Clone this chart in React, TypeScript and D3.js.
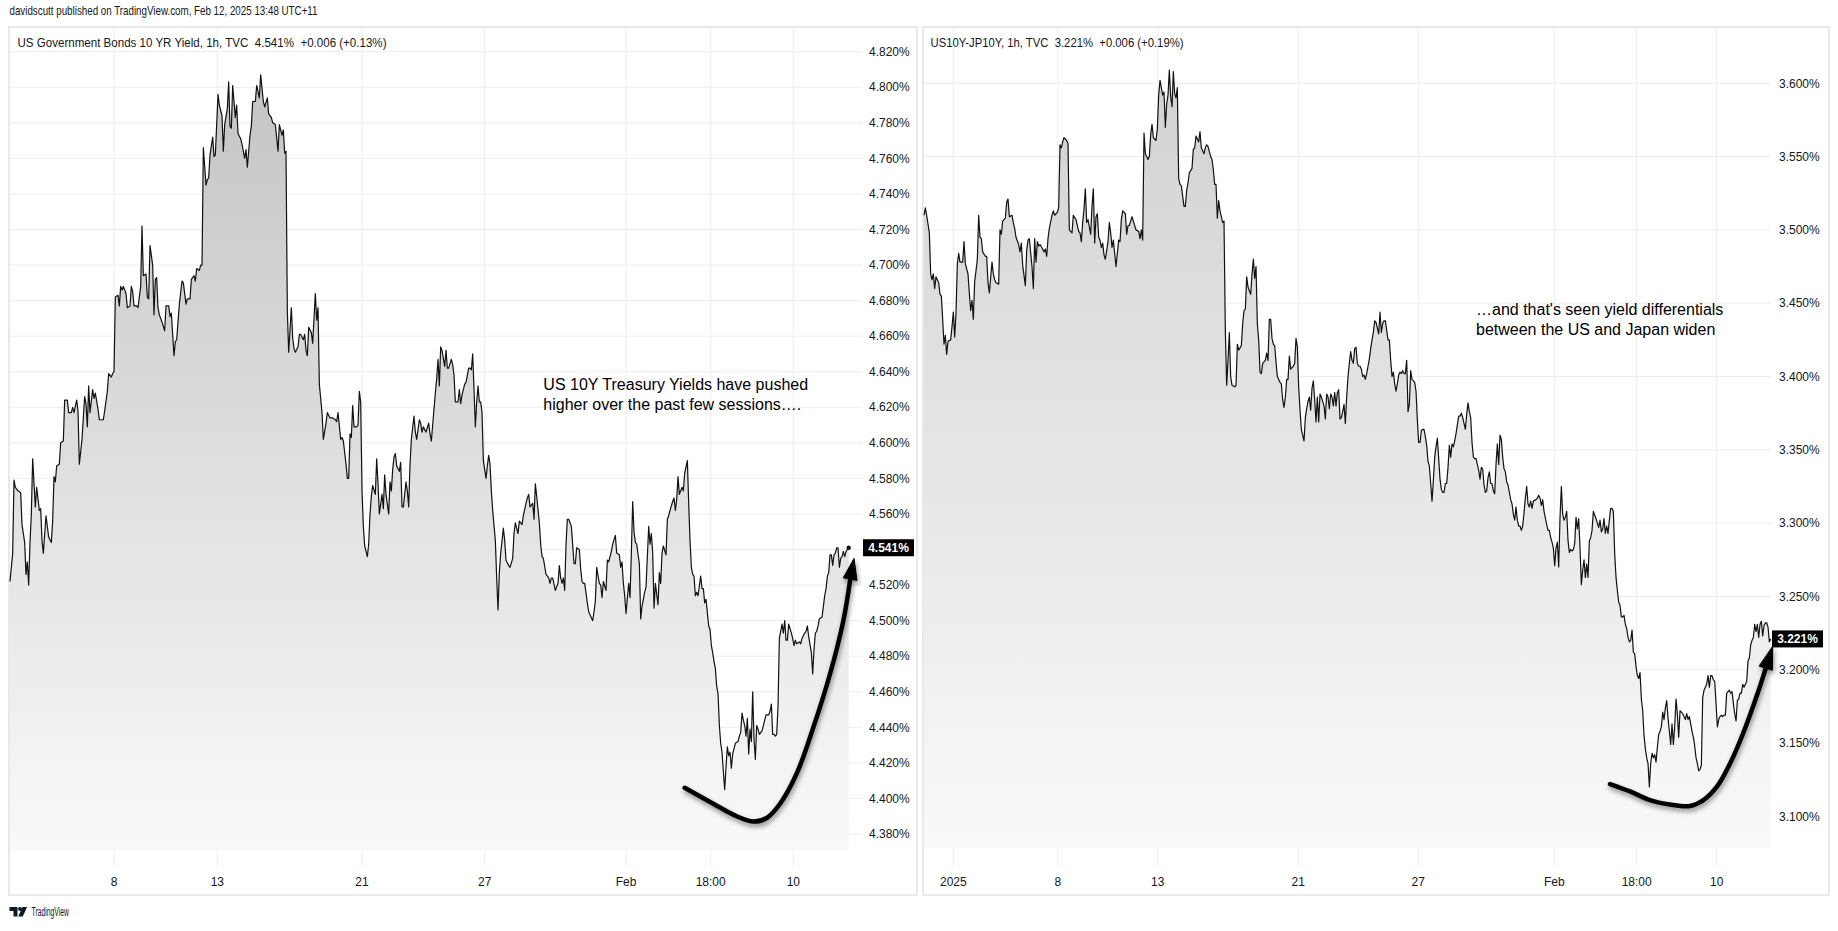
import React from "react";
import * as d3 from "d3";

// US 10Y yield, hourly bars (bar index) and closes (%)
const usBars = [
  0, 2, 3, 4, 6, 8, 9, 11, 12, 13, 14, 15, 16, 17, 19, 20, 22, 23, 24, 25, 27, 29, 31, 32, 33, 34, 35, 37, 38, 40,
  41, 43, 44, 46, 47, 48, 50, 51, 52, 54, 56, 57, 58, 59, 60, 62, 63, 64, 66, 67, 70, 71, 73, 74, 76, 77, 78, 79, 81, 82,
  83, 84, 85, 87, 88, 90, 91, 92, 93, 95, 96, 98, 99, 100, 102, 103, 104, 105, 107, 108, 109, 110, 111, 112, 114, 116, 117, 119, 120, 121,
  123, 124, 125, 126, 127, 129, 130, 132, 133, 135, 136, 138, 139, 140, 142, 143, 144, 145, 147, 148, 149, 150, 152, 153, 154, 156, 157, 159, 160, 161,
  163, 164, 165, 166, 167, 169, 170, 171, 173, 174, 176, 177, 178, 180, 181, 182, 184, 185, 187, 188, 190, 191, 193, 194, 196, 197, 199, 201, 202, 204,
  205, 206, 207, 208, 209, 211, 212, 213, 214, 216, 217, 218, 220, 221, 222, 223, 224, 226, 227, 229, 230, 231, 232, 234, 235, 237, 238, 240, 242, 244,
  245, 246, 248, 249, 250, 252, 253, 254, 255, 256, 257, 258, 260, 261, 262, 263, 264, 265, 266, 268, 269, 270, 271, 272, 274, 275, 276, 277, 279, 280,
  281, 282, 284, 285, 286, 287, 288, 289, 290, 292, 293, 294, 295, 297, 298, 299, 300, 301, 303, 304, 305, 307, 308, 309, 310, 312, 314, 315, 316, 317,
  319, 320, 321, 322, 323, 324, 326, 327, 328, 329, 331, 332, 333, 334, 336, 337, 338, 339, 341, 342, 344, 345, 346, 347, 348, 349, 350, 351, 352, 353,
  354, 355, 357, 358, 359, 360, 361, 362, 364, 365, 366, 367, 368, 370, 371, 372, 374, 375, 377, 378, 379, 381, 382, 384, 385, 387, 388, 389, 390, 392,
  393, 394, 395, 397, 398, 399, 400, 402, 404, 405, 406, 407, 409, 410, 411, 412, 413, 414, 415, 416, 417, 418, 419, 421, 423, 424, 425, 427, 428, 429,
  430, 431, 433, 434, 437, 438, 439, 440, 442, 443, 444, 445, 447, 448, 449, 451, 452, 454, 455, 457, 458, 459, 460, 461, 462, 464, 465, 466, 467, 468,
  469, 470, 472, 473, 474, 476, 477, 479, 480, 481, 482, 483, 484, 486, 487, 488, 489, 490, 492, 493, 494, 495, 497, 498, 499, 500, 501, 502, 504, 505,
  506, 508, 509, 510, 511, 512, 513, 514, 515, 516, 518, 519, 520, 521, 522, 524, 525, 526, 527, 528, 529, 530, 531, 532, 533, 534, 535, 536, 537, 538,
  539, 540, 541, 542, 543, 544, 546, 547, 548, 549, 550, 551, 552, 553, 554, 555, 556, 557, 558, 559, 560, 561, 562, 564, 565, 566, 567, 569, 570, 571,
  572, 573, 574, 575, 576, 577, 579, 580, 581, 582, 583, 584, 586, 587, 588, 589, 590, 592, 593, 594, 596, 597, 598, 599, 601, 602, 603, 604, 605, 606,
  607, 609, 610, 611, 612, 613, 614, 615, 616, 617, 618, 619, 620, 621, 622, 623, 624, 625, 626, 627, 629,
];
const usYield = [
  4.522, 4.538, 4.579, 4.575, 4.573, 4.572, 4.554, 4.544, 4.526, 4.533, 4.52, 4.544, 4.56, 4.591, 4.564, 4.575, 4.562, 4.563, 4.545, 4.538, 4.559, 4.547, 4.544, 4.556, 4.581, 4.578, 4.587, 4.588, 4.6, 4.601,
  4.624, 4.624, 4.617, 4.617, 4.62, 4.617, 4.624, 4.618, 4.588, 4.602, 4.626, 4.622, 4.609, 4.632, 4.617, 4.63, 4.625, 4.628, 4.619, 4.613, 4.613, 4.618, 4.629, 4.639, 4.637, 4.639, 4.64, 4.682, 4.683, 4.677,
  4.688, 4.686, 4.688, 4.684, 4.676, 4.677, 4.688, 4.685, 4.677, 4.677, 4.676, 4.688, 4.722, 4.694, 4.695, 4.682, 4.681, 4.711, 4.7, 4.672, 4.692, 4.693, 4.676, 4.672, 4.668, 4.663, 4.677, 4.677, 4.671, 4.673,
  4.649, 4.657, 4.658, 4.668, 4.678, 4.691, 4.69, 4.678, 4.681, 4.681, 4.692, 4.694, 4.691, 4.698, 4.697, 4.7, 4.7, 4.766, 4.745, 4.748, 4.749, 4.762, 4.772, 4.761, 4.762, 4.796, 4.79, 4.784, 4.764, 4.779,
  4.788, 4.803, 4.778, 4.777, 4.801, 4.783, 4.79, 4.774, 4.771, 4.768, 4.76, 4.765, 4.755, 4.773, 4.778, 4.792, 4.792, 4.801, 4.794, 4.807, 4.792, 4.789, 4.794, 4.785, 4.783, 4.78, 4.779, 4.764, 4.779, 4.773,
  4.776, 4.763, 4.764, 4.674, 4.651, 4.676, 4.659, 4.653, 4.651, 4.654, 4.661, 4.661, 4.658, 4.661, 4.652, 4.649, 4.665, 4.662, 4.656, 4.684, 4.669, 4.676, 4.633, 4.617, 4.602, 4.611, 4.617, 4.614, 4.614, 4.613,
  4.612, 4.617, 4.602, 4.603, 4.601, 4.588, 4.58, 4.58, 4.605, 4.603, 4.621, 4.609, 4.609, 4.61, 4.629, 4.623, 4.573, 4.553, 4.542, 4.536, 4.543, 4.56, 4.57, 4.576, 4.571, 4.591, 4.577, 4.56, 4.571, 4.563,
  4.582, 4.571, 4.56, 4.578, 4.573, 4.585, 4.592, 4.594, 4.587, 4.584, 4.589, 4.564, 4.564, 4.578, 4.573, 4.564, 4.588, 4.602, 4.615, 4.606, 4.602, 4.613, 4.611, 4.606, 4.609, 4.606, 4.611, 4.605, 4.601, 4.61,
  4.628, 4.636, 4.647, 4.632, 4.654, 4.652, 4.643, 4.652, 4.642, 4.642, 4.647, 4.644, 4.638, 4.623, 4.623, 4.63, 4.622, 4.627, 4.633, 4.634, 4.642, 4.642, 4.641, 4.65, 4.63, 4.609, 4.623, 4.632, 4.623, 4.623,
  4.617, 4.59, 4.58, 4.587, 4.593, 4.588, 4.573, 4.562, 4.545, 4.524, 4.506, 4.527, 4.538, 4.552, 4.545, 4.534, 4.531, 4.53, 4.535, 4.549, 4.555, 4.549, 4.556, 4.554, 4.559, 4.566, 4.569, 4.571, 4.564, 4.566,
  4.557, 4.577, 4.57, 4.555, 4.543, 4.536, 4.535, 4.526, 4.524, 4.521, 4.524, 4.524, 4.517, 4.519, 4.521, 4.531, 4.524, 4.521, 4.524, 4.517, 4.543, 4.557, 4.557, 4.553, 4.532, 4.532, 4.541, 4.54, 4.529, 4.522,
  4.521, 4.521, 4.51, 4.505, 4.5, 4.505, 4.511, 4.53, 4.521, 4.52, 4.513, 4.522, 4.517, 4.534, 4.533, 4.539, 4.543, 4.548, 4.538, 4.537, 4.53, 4.533, 4.521, 4.514, 4.504, 4.521, 4.513, 4.538, 4.567, 4.55,
  4.544, 4.543, 4.532, 4.501, 4.508, 4.516, 4.519, 4.553, 4.543, 4.549, 4.538, 4.507, 4.521, 4.509, 4.527, 4.521, 4.538, 4.542, 4.537, 4.557, 4.559, 4.562, 4.567, 4.569, 4.562, 4.568, 4.581, 4.571, 4.575, 4.573,
  4.583, 4.59, 4.566, 4.545, 4.53, 4.526, 4.525, 4.514, 4.516, 4.514, 4.525, 4.518, 4.518, 4.51, 4.512, 4.497, 4.495, 4.486, 4.482, 4.477, 4.473, 4.463, 4.459, 4.441, 4.431, 4.426, 4.415, 4.405, 4.418, 4.429,
  4.424, 4.426, 4.417, 4.425, 4.428, 4.431, 4.432, 4.435, 4.437, 4.448, 4.444, 4.441, 4.435, 4.445, 4.425, 4.439, 4.432, 4.46, 4.433, 4.422, 4.441, 4.439, 4.436, 4.438, 4.441, 4.444, 4.447, 4.447, 4.449, 4.453,
  4.436, 4.436, 4.435, 4.436, 4.452, 4.49, 4.498, 4.493, 4.5, 4.489, 4.489, 4.498, 4.493, 4.49, 4.486, 4.489, 4.487, 4.488, 4.487, 4.49, 4.493, 4.494, 4.497, 4.491, 4.482, 4.47, 4.484, 4.493, 4.494, 4.497,
  4.501, 4.502, 4.508, 4.514, 4.518, 4.525, 4.527, 4.537, 4.537, 4.531, 4.537, 4.538, 4.541, 4.541, 4.53, 4.535, 4.536, 4.539, 4.536, 4.539, 4.541,
];

// US10Y - JP10Y spread, hourly bars and closes (%)
const spreadBars = [
  0, 1, 2, 4, 5, 6, 7, 8, 9, 11, 12, 13, 14, 15, 16, 17, 18, 20, 21, 22, 23, 24, 25, 26, 27, 29, 30, 31, 33, 34,
  35, 36, 37, 38, 39, 40, 41, 42, 43, 44, 46, 47, 48, 49, 51, 52, 53, 54, 56, 57, 58, 59, 61, 62, 63, 64, 66, 67, 68, 69,
  71, 72, 73, 74, 76, 77, 78, 79, 81, 82, 83, 84, 85, 86, 87, 89, 90, 91, 92, 93, 94, 96, 97, 98, 100, 101, 102, 103, 104, 105,
  106, 107, 108, 109, 110, 111, 112, 114, 115, 116, 117, 118, 119, 120, 121, 122, 123, 124, 125, 126, 127, 128, 129, 130, 131, 132, 133, 134, 135, 136,
  138, 139, 140, 141, 142, 143, 144, 145, 146, 147, 148, 149, 151, 152, 153, 154, 156, 157, 158, 159, 161, 162, 163, 164, 165, 166, 167, 168, 169, 170,
  171, 172, 174, 175, 176, 177, 178, 179, 180, 181, 182, 183, 184, 185, 186, 187, 188, 189, 190, 191, 192, 193, 195, 196, 197, 198, 199, 201, 202, 203,
  204, 206, 207, 208, 210, 211, 212, 213, 215, 216, 217, 218, 219, 220, 221, 222, 224, 225, 226, 227, 228, 229, 230, 231, 233, 234, 235, 236, 238, 239,
  240, 241, 242, 243, 245, 246, 247, 248, 249, 250, 251, 252, 253, 254, 256, 257, 258, 259, 260, 261, 262, 263, 264, 265, 267, 268, 269, 270, 271, 272,
  273, 274, 275, 276, 277, 278, 279, 280, 281, 282, 283, 284, 285, 286, 287, 288, 289, 290, 291, 292, 293, 294, 295, 296, 297, 298, 299, 300, 301, 302,
  303, 304, 305, 306, 307, 308, 309, 310, 311, 312, 313, 314, 315, 316, 317, 318, 319, 320, 321, 322, 323, 324, 325, 326, 327, 328, 329, 330, 331, 332,
  333, 334, 335, 336, 337, 338, 339, 340, 341, 342, 343, 344, 345, 346, 348, 349, 350, 351, 352, 353, 354, 355, 356, 357, 358, 359, 360, 361, 362, 363,
  364, 365, 366, 367, 368, 369, 370, 371, 372, 373, 374, 375, 376, 377, 378, 379, 380, 381, 382, 383, 384, 385, 386, 387, 388, 389, 390, 391, 392, 393,
  394, 395, 396, 397, 398, 399, 400, 401, 402, 403, 404, 405, 406, 407, 408, 409, 410, 411, 412, 413, 414, 415, 416, 417, 418, 419, 420, 421, 422, 423,
  424, 425, 426, 427, 428, 429, 430, 431, 432, 433, 434, 435, 436, 437, 438, 440, 441, 442, 443, 444, 445, 446, 447, 448, 449, 450, 451, 452, 453, 454,
  455, 456, 457, 459, 460, 461, 462, 463, 464, 465, 467, 468, 469, 470, 471, 472, 473, 474, 475, 476, 477, 478, 479, 480, 481, 482, 483, 484, 485, 486,
  487, 488, 489, 490, 491, 492, 493, 494, 495, 496, 497, 498, 499, 500, 501, 502, 504, 505, 506, 507, 508, 509, 510, 511, 512, 513, 514, 515, 516, 517,
  518, 519, 520, 521, 522, 523, 524, 525, 526, 527, 528, 529, 530, 531, 532, 533, 534, 535, 536, 537, 538, 539, 540, 541, 542, 543, 544, 545, 546, 547,
  548, 549, 550, 551, 552, 553, 554, 555, 556, 557, 558, 559, 560, 561, 562, 563, 564, 565, 566, 567, 568, 569, 570, 571, 572, 573, 574, 575, 576, 577,
  578, 579, 580, 581, 582, 583, 584, 585, 586, 587, 588, 589, 590, 591, 592, 593, 594, 595, 596, 597, 598, 599, 600, 601, 602, 603, 604, 605, 606, 607,
  608, 609, 610, 611, 612, 613, 614, 615, 616, 617, 618, 619, 620, 621, 622, 623, 624, 625, 626, 627, 628, 629, 630, 631, 632, 633, 634, 635,
];
const spreadYield = [
  3.51, 3.515, 3.51, 3.498, 3.47, 3.466, 3.47, 3.46, 3.468, 3.464, 3.456, 3.455, 3.439, 3.422, 3.428, 3.415, 3.424, 3.425, 3.434, 3.444, 3.427, 3.443, 3.477, 3.484, 3.478, 3.478, 3.492, 3.477, 3.47, 3.457,
  3.445, 3.452, 3.439, 3.465, 3.472, 3.48, 3.51, 3.495, 3.494, 3.485, 3.482, 3.482, 3.464, 3.457, 3.478, 3.47, 3.466, 3.464, 3.463, 3.5, 3.497, 3.506, 3.508, 3.519, 3.521, 3.509, 3.51, 3.505, 3.501, 3.495,
  3.49, 3.485, 3.491, 3.476, 3.462, 3.486, 3.493, 3.494, 3.475, 3.46, 3.494, 3.478, 3.492, 3.489, 3.49, 3.487, 3.485, 3.487, 3.482, 3.494, 3.501, 3.51, 3.513, 3.51, 3.512, 3.515, 3.558, 3.556, 3.56, 3.563,
  3.562, 3.561, 3.559, 3.5, 3.499, 3.498, 3.51, 3.507, 3.503, 3.499, 3.498, 3.492, 3.505, 3.514, 3.528, 3.505, 3.507, 3.502, 3.497, 3.516, 3.528, 3.491, 3.509, 3.511, 3.495, 3.493, 3.488, 3.491, 3.483, 3.48,
  3.492, 3.505, 3.498, 3.488, 3.493, 3.484, 3.475, 3.484, 3.493, 3.492, 3.507, 3.513, 3.511, 3.497, 3.503, 3.503, 3.509, 3.506, 3.503, 3.5, 3.499, 3.494, 3.5, 3.493, 3.566, 3.552, 3.55, 3.548, 3.55, 3.565,
  3.572, 3.563, 3.561, 3.569, 3.592, 3.602, 3.597, 3.592, 3.594, 3.57, 3.586, 3.592, 3.609, 3.591, 3.584, 3.608, 3.593, 3.59, 3.597, 3.535, 3.531, 3.53, 3.516, 3.516, 3.527, 3.532, 3.539, 3.542, 3.555, 3.556,
  3.564, 3.56, 3.567, 3.556, 3.552, 3.556, 3.558, 3.557, 3.55, 3.548, 3.541, 3.531, 3.531, 3.508, 3.52, 3.513, 3.505, 3.506, 3.431, 3.394, 3.411, 3.43, 3.4, 3.394, 3.393, 3.394, 3.422, 3.418, 3.421, 3.436,
  3.445, 3.446, 3.468, 3.461, 3.456, 3.47, 3.48, 3.467, 3.475, 3.436, 3.425, 3.403, 3.402, 3.409, 3.411, 3.416, 3.411, 3.439, 3.439, 3.426, 3.422, 3.421, 3.41, 3.4, 3.396, 3.395, 3.384, 3.379, 3.386, 3.398,
  3.398, 3.414, 3.405, 3.406, 3.407, 3.409, 3.426, 3.42, 3.393, 3.377, 3.364, 3.36, 3.356, 3.372, 3.378, 3.383, 3.386, 3.377, 3.392, 3.397, 3.384, 3.369, 3.386, 3.369, 3.388, 3.386, 3.383, 3.38, 3.371, 3.388,
  3.386, 3.378, 3.388, 3.386, 3.38, 3.389, 3.38, 3.389, 3.391, 3.371, 3.372, 3.376, 3.381, 3.368, 3.386, 3.4, 3.409, 3.417, 3.411, 3.409, 3.419, 3.42, 3.409, 3.407, 3.407, 3.405, 3.4, 3.401, 3.398, 3.402,
  3.407, 3.412, 3.419, 3.425, 3.43, 3.438, 3.437, 3.433, 3.429, 3.444, 3.43, 3.436, 3.438, 3.438, 3.425, 3.425, 3.411, 3.4, 3.403, 3.395, 3.39, 3.395, 3.401, 3.403, 3.402, 3.404, 3.402, 3.402, 3.411, 3.376,
  3.381, 3.404, 3.398, 3.397, 3.396, 3.39, 3.37, 3.355, 3.355, 3.363, 3.364, 3.364, 3.359, 3.353, 3.342, 3.339, 3.327, 3.315, 3.329, 3.345, 3.352, 3.358, 3.344, 3.33, 3.323, 3.321, 3.321, 3.327, 3.327, 3.338,
  3.353, 3.345, 3.354, 3.352, 3.356, 3.361, 3.367, 3.373, 3.373, 3.375, 3.372, 3.368, 3.364, 3.374, 3.382, 3.376, 3.372, 3.355, 3.345, 3.344, 3.344, 3.34, 3.336, 3.33, 3.338, 3.337, 3.326, 3.321, 3.322, 3.331,
  3.335, 3.327, 3.327, 3.322, 3.32, 3.34, 3.354, 3.34, 3.36, 3.357, 3.345, 3.337, 3.335, 3.328, 3.326, 3.316, 3.313, 3.306, 3.302, 3.311, 3.302, 3.298, 3.298, 3.295, 3.298, 3.307, 3.317, 3.325, 3.313, 3.311,
  3.315, 3.31, 3.315, 3.316, 3.317, 3.319, 3.317, 3.312, 3.316, 3.308, 3.299, 3.295, 3.295, 3.29, 3.287, 3.283, 3.271, 3.283, 3.287, 3.27, 3.304, 3.325, 3.306, 3.302, 3.304, 3.308, 3.288, 3.28, 3.282, 3.281,
  3.282, 3.286, 3.304, 3.296, 3.303, 3.283, 3.258, 3.268, 3.275, 3.263, 3.272, 3.263, 3.288, 3.29, 3.295, 3.308, 3.303, 3.3, 3.297, 3.302, 3.294, 3.296, 3.303, 3.293, 3.298, 3.293, 3.302, 3.31, 3.31, 3.308,
  3.279, 3.263, 3.254, 3.246, 3.244, 3.236, 3.236, 3.237, 3.231, 3.228, 3.222, 3.219, 3.22, 3.227, 3.212, 3.211, 3.202, 3.196, 3.194, 3.198, 3.18, 3.172, 3.155, 3.146, 3.14, 3.136, 3.12, 3.136, 3.143, 3.14,
  3.142, 3.137, 3.147, 3.156, 3.158, 3.161, 3.171, 3.166, 3.174, 3.179, 3.167, 3.158, 3.149, 3.163, 3.149, 3.161, 3.18, 3.17, 3.154, 3.172, 3.171, 3.17, 3.168, 3.166, 3.17, 3.166, 3.168, 3.163, 3.158, 3.154,
  3.148, 3.14, 3.136, 3.131, 3.132, 3.135, 3.181, 3.186, 3.188, 3.19, 3.196, 3.188, 3.196, 3.196, 3.193, 3.192, 3.177, 3.161, 3.166, 3.168, 3.169, 3.168, 3.169, 3.169, 3.184, 3.185, 3.186, 3.184, 3.185, 3.177,
  3.17, 3.165, 3.179, 3.18, 3.184, 3.184, 3.19, 3.188, 3.19, 3.192, 3.206, 3.208, 3.217, 3.22, 3.222, 3.231, 3.226, 3.231, 3.222, 3.231, 3.233, 3.223, 3.23, 3.232, 3.232, 3.229, 3.219, 3.221,
];

// time axis labels (bar positions)
const usTickBars = [78, 155.5, 264, 356, 462, 525.5, 587.5];
const usTickLabels = ["8", "13", "21", "27", "Feb", "18:00", "10"];
const spreadTickBars = [22, 100.3, 175.3, 280.7, 370.7, 472.7, 534.5, 594.5];
const spreadTickLabels = ["2025", "8", "13", "21", "27", "Feb", "18:00", "10"];

// hand-drawn arrows (anchored in bar / value space)
const usArrowBars = [506, 527.5, 545, 557.5, 567.5, 577.5, 590, 602.5, 615, 625, 630.5, 633];
const usArrowVals = [4.406, 4.397, 4.39, 4.387, 4.389, 4.397, 4.414, 4.44, 4.47, 4.5, 4.525, 4.535];
const spreadArrowBars = [514.5, 529.5, 544.5, 559.5, 574.5, 584.5, 594.5, 604.5, 614.5, 624.5, 632, 636.5];
const spreadArrowVals = [3.122, 3.117, 3.111, 3.108, 3.107, 3.111, 3.12, 3.136, 3.157, 3.182, 3.203, 3.216];

const usNote = ["US 10Y Treasury Yields have pushed", "higher over the past few sessions…."];
const spreadNote = ["…and that's seen yield differentials", "between the US and Japan widen"];

const FONT = "'Liberation Sans', Arial, Helvetica, sans-serif";
const INK = "#131722";
const GRID = "#ededed";

function Panel({ p }: { p: any }) {
  const x = d3.scaleLinear().domain([0, p.xMax]).range(p.xRange);
  const y = d3.scaleLinear().domain([p.yMin, p.yMax]).range(p.yRange);
  const pts: [number, number][] = p.bars.map((b: number, i: number) => [b, p.values[i]]);
  const line = d3.line<[number, number]>().x((d) => x(d[0])).y((d) => y(d[1]));
  const area = d3
    .area<[number, number]>()
    .x((d) => x(d[0]))
    .y0(p.areaBottom)
    .y1((d) => y(d[1]));

  const n = Math.round((p.yMax - p.yMin) / p.yStep);
  const yTicks = d3.range(n + 1).map((i) => p.yMin + i * p.yStep);
  const fmt = d3.format(".3f");
  const lastBar = p.bars[p.bars.length - 1];
  const lastVal = p.values[p.values.length - 1];
  const lastY = y(lastVal);

  // arrow
  const ap: [number, number][] = p.arrowBars.map((b: number, i: number) => [x(b), y(p.arrowVals[i])]);
  const tip = ap[ap.length - 1];
  const base = ap[ap.length - 2];
  const body = ap.slice(0, -1);
  const dx = tip[0] - base[0];
  const dy = tip[1] - base[1];
  const len = Math.hypot(dx, dy);
  const ux = dx / len;
  const uy = dy / len;
  const hw = 7;
  const bx = base[0] - ux * 3;
  const by = base[1] - uy * 3;
  const head = `M${tip[0]},${tip[1]}L${bx - uy * hw},${by + ux * hw}L${bx + uy * hw},${by - ux * hw}Z`;
  const arrowPath = d3.line().curve(d3.curveCatmullRom.alpha(0.5))(body) || "";

  return (
    <g>
      <defs>
        <linearGradient id={p.id + "-fill"} x1="0" y1="0" x2="0" y2="1">
          <stop offset="0" stopColor={p.gradTop} />
          <stop offset="1" stopColor="#f9f9f9" />
        </linearGradient>
      </defs>
      <rect
        x={p.left}
        y={p.top}
        width={p.right - p.left}
        height={p.bottom - p.top}
        fill="#fff"
        stroke="#e9e9e9"
        strokeWidth={2}
      />
      {/* grid */}
      {yTicks.map((t) => (
        <line key={"h" + t} x1={p.left + 1} x2={p.plotRight} y1={y(t)} y2={y(t)} stroke={GRID} />
      ))}
      {p.tickBars.map((b: number) => (
        <line key={"v" + b} x1={x(b)} x2={x(b)} y1={p.top + 1} y2={p.plotBottom} stroke={GRID} />
      ))}
      {/* series */}
      <path d={area(pts) || ""} fill={`url(#${p.id}-fill)`} />
      <path d={line(pts) || ""} fill="none" stroke="#111" strokeWidth={1.2} strokeLinejoin="round" />
      {p.dot && <circle cx={x(lastBar)} cy={lastY} r={2.2} fill="#111" />}
      {/* y axis */}
      {yTicks
        .filter((t) => Math.abs(y(t) - lastY) > 12)
        .map((t) => (
          <text key={"yl" + t} x={p.plotRight + p.labelPad} y={y(t)} dy="0.35em" fontSize={12} fill={INK} fontFamily={FONT}>
            {fmt(t) + "%"}
          </text>
        ))}
      <rect x={p.plotRight + 1} y={lastY - 8.5} width={51} height={17} fill="#000" />
      <text
        x={p.plotRight + 26.5}
        y={lastY}
        dy="0.35em"
        textAnchor="middle"
        fontSize={12}
        fontWeight="bold"
        fill="#fff"
        fontFamily={FONT}
      >
        {fmt(lastVal) + "%"}
      </text>
      {/* x axis */}
      {p.tickBars.map((b: number, i: number) => (
        <text key={"xl" + b} x={x(b)} y={886} textAnchor="middle" fontSize={12} fill={INK} fontFamily={FONT}>
          {p.tickLabels[i]}
        </text>
      ))}
      {/* legend */}
      <text
        x={p.legendX}
        y={46.5}
        fontSize={12.5}
        fill={INK}
        fontFamily={FONT}
        textLength={p.legendWidth}
        lengthAdjust="spacingAndGlyphs"
        style={{ whiteSpace: "pre" }}
      >
        {p.legend}
      </text>
      {/* note */}
      {p.note.map((s: string, i: number) => (
        <text key={"n" + i} x={x(p.noteBar)} y={y(p.noteVal) + i * 20} fontSize={16} fill="#000" fontFamily={FONT}>
          {s}
        </text>
      ))}
      {/* arrow */}
      <g filter="url(#arrowShadow)">
        <path d={arrowPath} fill="none" stroke="#000" strokeWidth={4.5} strokeLinecap="round" />
        <path d={head} fill="#000" stroke="#000" strokeWidth={1} strokeLinejoin="round" />
      </g>
    </g>
  );
}

export default function App() {
  const left = {
    id: "us",
    left: 9,
    right: 917,
    top: 27,
    bottom: 895,
    plotRight: 862,
    plotBottom: 866,
    areaBottom: 850,
    labelPad: 7,
    xMax: 629,
    xRange: [10, 848.7],
    yMin: 4.38,
    yMax: 4.82,
    yStep: 0.02,
    yRange: [834, 51.7],
    bars: usBars,
    values: usYield,
    tickBars: usTickBars,
    tickLabels: usTickLabels,
    legend: "US Government Bonds 10 YR Yield, 1h, TVC  4.541%  +0.006 (+0.13%)",
    legendX: 17.5,
    legendWidth: 369,
    note: usNote,
    noteBar: 400,
    noteVal: 4.63,
    arrowBars: usArrowBars,
    arrowVals: usArrowVals,
    gradTop: "#c4c4c4",
    dot: true,
  };
  const right = {
    id: "spread",
    left: 923,
    right: 1829,
    top: 27,
    bottom: 895,
    plotRight: 1771,
    plotBottom: 866,
    areaBottom: 848,
    labelPad: 8,
    xMax: 635,
    xRange: [924, 1770.7],
    yMin: 3.1,
    yMax: 3.6,
    yStep: 0.05,
    yRange: [816.3, 83.3],
    bars: spreadBars,
    values: spreadYield,
    tickBars: spreadTickBars,
    tickLabels: spreadTickLabels,
    legend: "US10Y-JP10Y, 1h, TVC  3.221%  +0.006 (+0.19%)",
    legendX: 930.5,
    legendWidth: 253,
    note: spreadNote,
    noteBar: 414,
    noteVal: 3.442,
    arrowBars: spreadArrowBars,
    arrowVals: spreadArrowVals,
    gradTop: "#d2d2d2",
    dot: false,
  };

  return (
    <div style={{ position: "absolute", left: 0, top: 0, width: 1838, height: 931, background: "#fff" }}>
      <svg width={1838} height={931} style={{ display: "block" }}>
        <defs>
          <filter id="arrowShadow" x="-20%" y="-20%" width="140%" height="140%">
            <feDropShadow dx="1" dy="3" stdDeviation="2.5" floodColor="#000" floodOpacity="0.45" />
          </filter>
        </defs>
        <rect width={1838} height={931} fill="#fff" />
        <text
          x={9.5}
          y={15}
          fontSize={13}
          fill={INK}
          fontFamily={FONT}
          textLength={308}
          lengthAdjust="spacingAndGlyphs"
        >
          davidscutt published on TradingView.com, Feb 12, 2025 13:48 UTC+11
        </text>
        <Panel p={left} />
        <Panel p={right} />
        {/* footer logo */}
        <g fill="#131722">
          <path d="M9.5 907h8v9.5h-4v-5.5h-4z" />
          <circle cx={20} cy={909} r={2} />
          <path d="M22.5 907h4.5l-4.2 9.5h-4.6z" />
        </g>
        <text x={31.5} y={916} fontSize={12} fill={INK} fontFamily={FONT} textLength={37.5} lengthAdjust="spacingAndGlyphs">
          TradingView
        </text>
      </svg>
    </div>
  );
}
